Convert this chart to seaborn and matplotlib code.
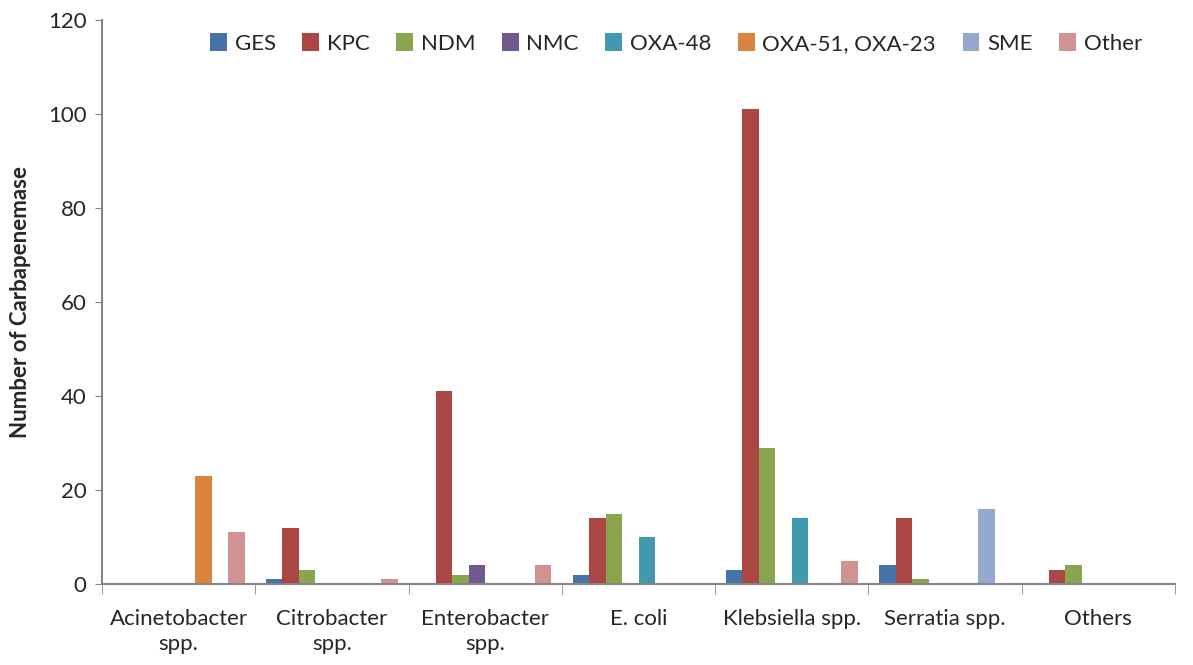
import pandas as pd
import matplotlib
matplotlib.use('Agg')
import matplotlib.pyplot as plt
import seaborn as sns

organisms = ['Acinetobacter\nspp.', 'Citrobacter\nspp.', 'Enterobacter\nspp.', 'E. coli',
             'Klebsiella spp.', 'Serratia spp.', 'Others']
enzymes = ['GES', 'KPC', 'NDM', 'NMC', 'OXA-48', 'OXA-51, OXA-23', 'SME', 'Other']
colors = ['#4572A7', '#AA4643', '#89A54E', '#71588F', '#4198AF', '#DB843D', '#93A9CF', '#D19392']

ges = [0, 1, 0, 2, 3, 4, 0]
kpc = [0, 12, 41, 14, 101, 14, 3]
ndm = [0, 3, 2, 15, 29, 1, 4]
nmc = [0, 0, 4, 0, 0, 0, 0]
oxa48 = [0, 0, 0, 10, 14, 0, 0]
oxa51 = [23, 0, 0, 0, 0, 0, 0]
sme = [0, 0, 0, 0, 0, 16, 0]
other = [11, 1, 4, 0, 5, 0, 0]

series = [ges, kpc, ndm, nmc, oxa48, oxa51, sme, other]
rows = []
for enz, vals in zip(enzymes, series):
    for org, v in zip(organisms, vals):
        rows.append({'organism': org, 'enzyme': enz, 'count': v})
df = pd.DataFrame(rows)

sns.set_style('white')
plt.rcParams['font.family'] = ['Lato', 'DejaVu Sans']

fig = plt.figure(figsize=(11.93, 6.65), dpi=100)
ax = fig.add_axes([102 / 1193, 1 - 584 / 665, (1175 - 102) / 1193, (584 - 20) / 665])

sns.barplot(data=df, x='organism', y='count', hue='enzyme', order=organisms,
            hue_order=enzymes, palette=colors, saturation=1, width=0.86,
            linewidth=0, ax=ax)

ax.set_ylim(0, 120)
ax.set_xlim(-0.5, len(organisms) - 0.5)
ax.set_yticks(range(0, 121, 20))
ax.set_xlabel('')
ax.set_ylabel('Number of Carbapenemase', fontsize=16, fontweight='bold', labelpad=12)
ax.tick_params(axis='y', labelsize=16, length=5, color='#868686', direction='out', left=True, pad=6)
ax.tick_params(axis='x', labelsize=16, length=0, pad=18)
ax.set_xticks(range(len(organisms)))
ax.set_xticklabels(organisms, linespacing=1.3)
ax.set_xticks([i + 0.5 for i in range(-1, len(organisms))], minor=True)
ax.tick_params(axis='x', which='minor', length=7, color='#868686', direction='out', bottom=True)

for s in ['top', 'right']:
    ax.spines[s].set_visible(False)
for s in ['left', 'bottom']:
    ax.spines[s].set_color('#868686')
    ax.spines[s].set_linewidth(1.5)

leg = ax.legend(loc='upper center', bbox_to_anchor=(0.535, 1.012), ncol=8, frameon=False,
                fontsize=16, handlelength=0.75, handleheight=0.85, handletextpad=0.35,
                columnspacing=1.2)

fig.savefig('out.png', dpi=100)
